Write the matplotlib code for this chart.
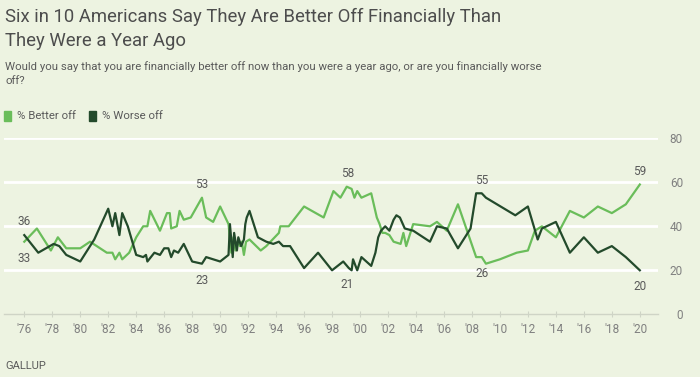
import matplotlib.pyplot as plt
from matplotlib.patches import Rectangle
from matplotlib import ticker

# decimal years
better_years = [1976.0, 1976.9, 1977.9, 1978.4, 1979.0, 1980.0, 1980.7, 1981.9, 1982.3, 1982.5,
                1982.8, 1983.0, 1983.5, 1984.0, 1984.5, 1984.8, 1985.0, 1985.7, 1986.2, 1986.4,
                1986.5, 1986.9, 1987.1, 1987.4, 1987.9, 1988.7, 1989.0, 1989.5, 1990.0, 1990.6,
                1990.8, 1990.95, 1991.1, 1991.3, 1991.4, 1991.55, 1991.7, 1991.85, 1992.1, 1992.9,
                1993.3, 1993.9, 1994.2, 1994.3, 1994.9, 1996.0, 1997.4, 1998.1, 1998.6, 1999.05,
                1999.4, 1999.6, 1999.8, 2000.1, 2000.8, 2001.2, 2001.4, 2001.6, 2001.8, 2002.1,
                2002.4, 2002.9, 2003.1, 2003.3, 2003.8, 2005.0, 2005.5, 2006.2, 2007.0, 2008.3,
                2008.7, 2009.0, 2010.0, 2011.2, 2012.0, 2012.5, 2013.0, 2014.0, 2015.0, 2016.0,
                2017.0, 2018.0, 2019.0, 2020.0]
better_off = [33, 39, 29, 35, 30, 30, 33, 28, 28, 25,
              28, 25, 28, 35, 40, 40, 47, 38, 46, 46,
              39, 40, 47, 43, 44, 53, 44, 42, 49, 41,
              28, 35, 29, 34, 31, 33, 27, 33, 34, 29,
              31, 35, 37, 40, 40, 49, 44, 56, 53, 58,
              57, 53, 56, 53, 55, 44, 41, 37, 37, 36,
              33, 32, 37, 31, 41, 40, 42, 38, 50, 26,
              26, 23, 25, 28, 29, 38, 40, 35, 47, 44,
              49, 46, 50, 59]

worse_years = [1976.0, 1977.0, 1978.1, 1978.5, 1979.0, 1980.0, 1981.0, 1982.0, 1982.3, 1982.5,
               1982.8, 1983.0, 1983.4, 1984.0, 1984.5, 1984.7, 1984.8, 1985.3, 1985.7, 1986.0,
               1986.3, 1986.5, 1986.7, 1987.0, 1987.4, 1988.0, 1988.7, 1989.0, 1990.0, 1990.6,
               1990.7, 1990.9, 1991.0, 1991.2, 1991.3, 1991.5, 1991.7, 1991.8, 1991.9, 1992.1,
               1992.4, 1992.7, 1993.3, 1993.8, 1994.2, 1994.5, 1995.0, 1996.0, 1997.0, 1998.0,
               1998.8, 1999.2, 1999.4, 1999.5, 1999.8, 2000.1, 2000.8, 2001.1, 2001.3, 2001.5,
               2001.8, 2002.1, 2002.4, 2002.6, 2002.85, 2003.2, 2003.8, 2005.0, 2005.5, 2006.2,
               2007.0, 2007.9, 2008.3, 2008.7, 2009.0, 2011.1, 2012.0, 2012.7, 2013.0, 2014.0,
               2015.0, 2016.0, 2017.0, 2018.0, 2019.0, 2020.0]
worse_off = [36, 28, 32, 31, 27, 24, 34, 48, 40, 46,
             36, 46, 40, 27, 26, 27, 24, 28, 27, 30,
             30, 26, 29, 28, 32, 24, 23, 26, 24, 27,
             41, 26, 37, 29, 35, 31, 34, 41, 44, 47,
             41, 35, 33, 32, 33, 31, 31, 21, 28, 20,
             24, 21, 20, 25, 20, 26, 22, 28, 35, 38,
             40, 38, 43, 45, 44, 39, 38, 33, 40, 39,
             30, 39, 55, 55, 53, 45, 49, 34, 39, 42,
             28, 35, 28, 31, 26, 20]

# labelled points: (year, value, above?)
better_labels = [(1976.0, 33, False), (1988.7, 53, True), (1999.1, 58, True),
                 (2008.7, 26, False), (2020.0, 59, True)]
worse_labels = [(1976.0, 36, True), (1988.7, 23, False), (1999.1, 21, False),
                (2008.7, 55, True), (2020.0, 20, False)]

x_ticks = list(range(1976, 2021, 2))
x_labels = ["'%02d" % (y % 100) for y in x_ticks]
y_ticks = [0, 20, 40, 60, 80]

BG = '#EDF3E1'
LIGHT = '#6ABD5A'
DARK = '#234A2B'
GRAY = '#5a5a5a'
NARROW = ['Liberation Sans Narrow', 'Roboto', 'DejaVu Sans']

plt.rcParams['font.family'] = ['Roboto', 'DejaVu Sans']

fig = plt.figure(figsize=(7, 3.77), dpi=100, facecolor=BG)
ax = fig.add_axes([4 / 700, 1 - 314.3 / 377, 654 / 700, 176 / 377])
ax.set_facecolor(BG)

ax.plot(better_years, better_off, color=LIGHT, lw=1.6, zorder=3)
ax.plot(worse_years, worse_off, color=DARK, lw=1.6, zorder=4)

for yr, v, up in better_labels + worse_labels:
    ax.annotate(str(v), (yr, v), xytext=(0, 9.5 if up else -12), textcoords='offset points',
                ha='center', va='center', fontsize=8.5, color=GRAY)

ax.set_xlim(1974.55, 2021.3)
ax.set_ylim(0, 80)
ax.set_xticks(x_ticks)
ax.set_xticklabels(x_labels)
ax.set_yticks(y_ticks)
ax.yaxis.tick_right()
for lab in ax.get_yticklabels():
    lab.set_horizontalalignment('right')
ax.tick_params(axis='y', length=0, pad=18, labelsize=8.5, labelcolor='#808080')
ax.tick_params(axis='x', direction='inout', length=5, width=0.8, color='#cfd4c6',
               pad=4, labelsize=8.5, labelcolor='#808080')
for y in y_ticks[1:]:
    ax.axhline(y, color='white', lw=2, zorder=1)
for s in ['top', 'right', 'left']:
    ax.spines[s].set_visible(False)
ax.spines['bottom'].set_color('#cfd4c6')
ax.spines['bottom'].set_linewidth(1)

fig.text(5 / 700, 1 - 17 / 377, 'Six in 10 Americans Say They Are Better Off Financially Than',
         family=NARROW, fontsize=13.3, color='#4d4d4d', va='center')
fig.text(5 / 700, 1 - 41 / 377, 'They Were a Year Ago',
         family=NARROW, fontsize=13.3, color='#4d4d4d', va='center')
fig.text(5 / 700, 1 - 67 / 377,
         'Would you say that you are financially better off now than you were a year ago, or are you financially worse',
         family=NARROW, fontsize=8.2, color=GRAY, va='center')
fig.text(5 / 700, 1 - 81 / 377, 'off?', family=NARROW, fontsize=8.2, color=GRAY, va='center')

fig.patches.append(Rectangle((4 / 700, 1 - 121 / 377), 7 / 700, 10 / 377,
                             transform=fig.transFigure, color=LIGHT))
fig.text(17 / 700, 1 - 116 / 377, '% Better off', family=NARROW, fontsize=8.2, color=GRAY, va='center')
fig.patches.append(Rectangle((89 / 700, 1 - 121 / 377), 7 / 700, 10 / 377,
                             transform=fig.transFigure, color=DARK))
fig.text(102 / 700, 1 - 116 / 377, '% Worse off', family=NARROW, fontsize=8.2, color=GRAY, va='center')

fig.text(5 / 700, 1 - 366 / 377, 'GALLUP', family=NARROW, fontsize=8, color=GRAY, va='center')

plt.savefig('out.png', dpi=100, facecolor=BG)
